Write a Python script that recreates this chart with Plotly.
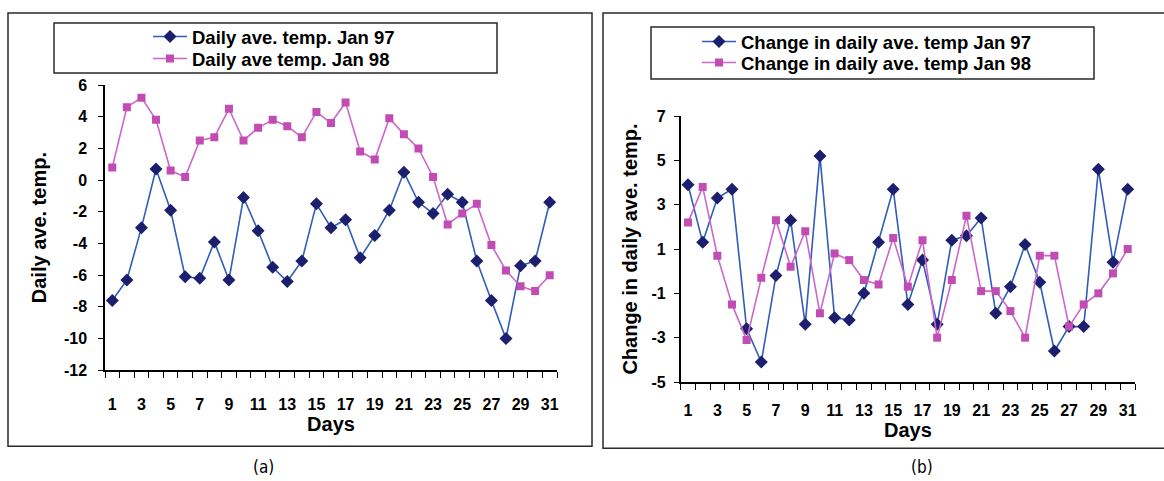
import plotly.graph_objects as go

days = list(range(1, 32))

temp_jan97 = [-7.6, -6.3, -3.0, 0.7, -1.9, -6.1, -6.2, -3.9, -6.3, -1.1,
              -3.2, -5.5, -6.4, -5.1, -1.5, -3.0, -2.5, -4.9, -3.5, -1.9,
              0.5, -1.4, -2.1, -0.9, -1.4, -5.1, -7.6, -10.0, -5.4, -5.1, -1.4]
temp_jan98 = [0.8, 4.6, 5.2, 3.8, 0.6, 0.2, 2.5, 2.7, 4.5, 2.5,
              3.3, 3.8, 3.4, 2.7, 4.3, 3.6, 4.9, 1.8, 1.3, 3.9,
              2.9, 2.0, 0.2, -2.8, -2.1, -1.5, -4.1, -5.7, -6.7, -7.0, -6.0]

chg_jan97 = [3.9, 1.3, 3.3, 3.7, -2.6, -4.1, -0.2, 2.3, -2.4, 5.2,
             -2.1, -2.2, -1.0, 1.3, 3.7, -1.5, 0.5, -2.4, 1.4, 1.6,
             2.4, -1.9, -0.7, 1.2, -0.5, -3.6, -2.5, -2.5, 4.6, 0.4, 3.7]
chg_jan98 = [2.2, 3.8, 0.7, -1.5, -3.1, -0.3, 2.3, 0.2, 1.8, -1.9,
             0.8, 0.5, -0.4, -0.6, 1.5, -0.7, 1.4, -3.0, -0.4, 2.5,
             -0.9, -0.9, -1.8, -3.0, 0.7, 0.7, -2.5, -1.5, -1.0, -0.1, 1.0]

x_tick_days = list(range(1, 32, 2))
left_yticks = list(range(-12, 7, 2))
right_yticks = list(range(-5, 8, 2))

names = ["Daily ave. temp. Jan 97", "Daily ave temp. Jan 98",
         "Change in daily ave. temp Jan 97", "Change in daily ave. temp Jan 98"]

BLUE_LINE = "#2F5DB8"
BLUE_MARK = "#1C1F6E"
PINK_LINE = "#CC66CC"
PINK_MARK = "#C04CB4"
FONT = "Liberation Sans, Arial, sans-serif"

W, H = 1164, 481
ML, MR, MT, MB = 105, 29, 85, 99.3
PW = W - ML - MR
PH = H - MT - MB


def px(x):
    return (x - ML) / PW


def py(y):
    return (H - MB - y) / PH


fig = go.Figure()

fig.add_trace(go.Scatter(x=days, y=temp_jan97, name=names[0], mode="lines+markers",
                         line=dict(color=BLUE_LINE, width=1.6),
                         marker=dict(symbol="diamond", size=10, color=BLUE_MARK),
                         xaxis="x", yaxis="y", legend="legend"))
fig.add_trace(go.Scatter(x=days, y=temp_jan98, name=names[1], mode="lines+markers",
                         line=dict(color=PINK_LINE, width=1.6),
                         marker=dict(symbol="square", size=8, color=PINK_MARK),
                         xaxis="x", yaxis="y", legend="legend3"))
fig.add_trace(go.Scatter(x=days, y=chg_jan97, name=names[2], mode="lines+markers",
                         line=dict(color=BLUE_LINE, width=1.6),
                         marker=dict(symbol="diamond", size=10, color=BLUE_MARK),
                         xaxis="x2", yaxis="y2", legend="legend2"))
fig.add_trace(go.Scatter(x=days, y=chg_jan98, name=names[3], mode="lines+markers",
                         line=dict(color=PINK_LINE, width=1.6),
                         marker=dict(symbol="square", size=8, color=PINK_MARK),
                         xaxis="x2", yaxis="y2", legend="legend4"))

tickfont = dict(family=FONT, size=16, color="black", weight="bold")
titlefont = dict(family=FONT, size=20, color="black", weight="bold")

xcommon = dict(range=[0.5, 31.5], tickmode="array", tickvals=x_tick_days,
               ticks="", showline=True, linecolor="black", linewidth=1.5,
               showgrid=False, zeroline=False, tickfont=tickfont,
               minor=dict(tick0=0.5, dtick=1, ticks="outside", ticklen=6,
                          tickcolor="black", tickwidth=1.2, showgrid=False))
ycommon = dict(ticks="outside", ticklen=5, tickcolor="black", tickwidth=1.2,
               showline=True, linecolor="black", linewidth=1.5, showgrid=False,
               zeroline=False, tickfont=tickfont, tickmode="array")

legfont = dict(family=FONT, size=18.5, color="black", weight="bold")


def leg(xpx, ypx):
    return dict(x=px(xpx), xanchor="left", y=py(ypx), yanchor="middle",
                bgcolor="rgba(0,0,0,0)", borderwidth=0, font=legfont,
                itemwidth=34)


fig.update_layout(
    width=W, height=H,
    margin=dict(l=ML, r=MR, t=MT, b=MB),
    paper_bgcolor="white", plot_bgcolor="white",
    font=dict(family=FONT, color="black"),
    xaxis=dict(domain=[0, px(557)], anchor="y",
               title=dict(text="Days", font=titlefont, standoff=5),
               ticklabelstandoff=19, **xcommon),
    yaxis=dict(domain=[py(370), 1], anchor="x", range=[-12, 6], tickvals=left_yticks,
               ticktext=[str(v) for v in left_yticks],
               title=dict(text="Daily ave. temp.", font=titlefont, standoff=12),
               ticklabelstandoff=8, **ycommon),
    xaxis2=dict(domain=[px(680.7), 1], anchor="y2",
                title=dict(text="Days", font=titlefont, standoff=0),
                ticklabelstandoff=13, **xcommon),
    yaxis2=dict(domain=[0, py(116)], anchor="x2", range=[-5, 7], tickvals=right_yticks,
                ticktext=[str(v) for v in right_yticks],
                title=dict(text="Change in daily ave. temp.", font=titlefont, standoff=9),
                ticklabelstandoff=5, **ycommon),
    legend=leg(148, 37),
    legend3=leg(148, 59),
    legend2=leg(697, 42),
    legend4=leg(697, 63),
    showlegend=True,
)

box_line = dict(color="#2a2a2a", width=1.5)
shapes = [
    dict(type="rect", xref="paper", yref="paper", x0=px(8), x1=px(592), y0=py(446), y1=py(13),
         line=box_line, fillcolor="rgba(0,0,0,0)", layer="below"),
    dict(type="rect", xref="paper", yref="paper", x0=px(603), x1=px(1170), y0=py(448), y1=py(13),
         line=box_line, fillcolor="rgba(0,0,0,0)", layer="below"),
    dict(type="rect", xref="paper", yref="paper", x0=px(54), x1=px(497), y0=py(73), y1=py(23),
         line=box_line, fillcolor="rgba(0,0,0,0)"),
    dict(type="rect", xref="paper", yref="paper", x0=px(651), x1=px(1094), y0=py(79), y1=py(27),
         line=box_line, fillcolor="rgba(0,0,0,0)"),
]
fig.update_layout(shapes=shapes)

capfont = dict(family="Liberation Sans Narrow, DejaVu Sans Condensed, Arial Narrow, sans-serif",
               size=17, color="black")
fig.add_annotation(text="(a)", xref="paper", yref="paper", x=px(263), y=py(467),
                   showarrow=False, font=capfont, xanchor="center", yanchor="middle")
fig.add_annotation(text="(b)", xref="paper", yref="paper", x=px(922), y=py(467),
                   showarrow=False, font=capfont, xanchor="center", yanchor="middle")

fig.write_html("out.html", config={"displayModeBar": False},
               post_script="document.body.style.margin='0';")
